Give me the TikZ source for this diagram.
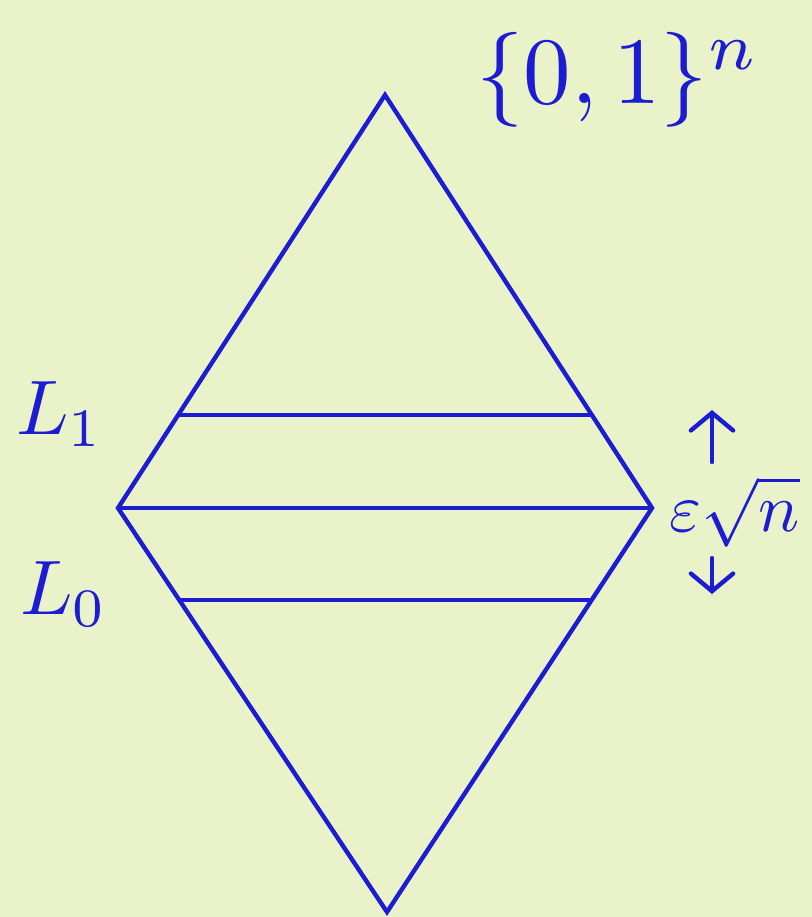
\documentclass[tikz,border=0pt]{standalone}
\usetikzlibrary{calc,arrows.meta}
\definecolor{paper}{HTML}{EAF2C9}
\definecolor{ink}{HTML}{1C1CD2}
\begin{document}
\begin{tikzpicture}[x=0.02cm,y=-0.02cm,
    pen/.style={draw=ink,line width=2.5pt,line join=miter},
    lbl/.style={text=ink,inner sep=0pt},
    tick/.style={draw=ink,line width=2.5pt,line cap=round,-{Straight Barb[length=10pt,width=24pt,line cap=round]}}]
    \fill[paper] (0,0) rectangle (812,917);
    \useasboundingbox (0,0) rectangle (812,917);
    \clip (0,0) rectangle (812,917);
    % corners of the diamond
    \coordinate (top) at (385,95);
    \coordinate (left) at (118,508);
    \coordinate (right) at (652,508);
    \coordinate (bottom) at (387,912);
    \draw[pen] (top) -- (right) -- (bottom) -- (left) -- cycle;
    % the three levels
    \coordinate (upL) at ($(left)!0.225!(top)$);
    \coordinate (upR) at ($(right)!0.225!(top)$);
    \coordinate (loL) at ($(left)!0.228!(bottom)$);
    \coordinate (loR) at ($(right)!0.228!(bottom)$);
    \draw[pen] (upL) -- (upR);
    \draw[pen] (left) -- (right);
    \draw[pen] (loL) -- (loR);
    % labels
    \node[lbl,scale=5.4] (cube) at (618,80) {$\{0,1\}^n$};
    \node[lbl,scale=4.4] (Lone) at (60,414) {$L_1$};
    \node[lbl,scale=4.4] (Lzero) at (64,594) {$L_0$};
    \node[lbl,scale=3.9,anchor=west] (eps) at (668,512) {$\varepsilon\sqrt{n}$};
    \coordinate (upbase) at (712,462);
    \coordinate (uptip) at (712,410);
    \coordinate (dnbase) at (712,558);
    \coordinate (dntip) at (712,594);
    \draw[tick] (upbase) -- (uptip);
    \draw[tick] (dnbase) -- (dntip);
\end{tikzpicture}
\end{document}
